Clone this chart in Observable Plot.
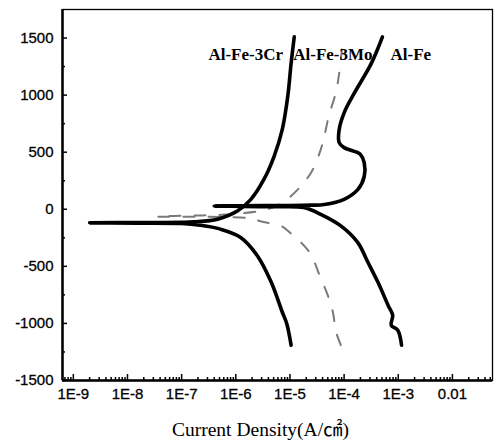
<!DOCTYPE html>
<html>
<head>
<meta charset="utf-8">
<script src="https://cdn.jsdelivr.net/npm/d3@7"></script>
<script src="https://cdn.jsdelivr.net/npm/@observablehq/plot@0.6"></script>
<style>
  html, body { margin: 0; padding: 0; background: #fff; }
  #chart svg { display: block; }
</style>
</head>
<body>
<div id="chart"></div>
<script>
// ---- data (current density A/cm², potential mV) ----
const decadeTicks  = [1e-9, 1e-8, 1e-7, 1e-6, 1e-5, 1e-4, 1e-3, 1e-2];
const decadeLabels = ["1E-9", "1E-8", "1E-7", "1E-6", "1E-5", "1E-4", "1E-3", "0.01"];
const potentialTicks = [-1500, -1000, -500, 0, 500, 1000, 1500];
const potentialMinorTicks = [-1250, -750, -250, 250, 750, 1250];

const crCurrent   = [1.05e-5, 8.7e-6, 7.2e-6, 4.5e-6, 2.5e-6, 1.23e-6, 5.2e-7, 2.2e-7, 1.0e-7, 1.6e-8, 2.0e-9, 1.6e-8, 1.0e-7, 1.7e-7, 4.6e-7, 1.07e-6, 1.9e-6, 3.3e-6, 5.1e-6, 7.2e-6, 9.1e-6, 1.05e-5, 1.2e-5];
const crPotential = [-1190, -1000, -900, -638, -407, -247, -174, -140, -125, -121, -119, -116, -114, -110, -87, -15, 87, 261, 464, 697, 987, 1278, 1510];

const moCurrent   = [8.7e-5, 7.1e-5, 6.2e-5, 5.0e-5, 3.5e-5, 2.3e-5, 1.12e-5, 6.8e-6, 3.1e-6, 1.9e-6, 6.3e-7, 3.5e-8, 1.26e-7, 3.5e-7, 1.0e-6, 3.2e-6, 5.6e-6, 1.05e-5, 2.45e-5, 3.7e-5, 4.3e-5, 5.2e-5, 7.1e-5, 8.1e-5, 9.1e-5];
const moPotential = [-1190, -1074, -900, -755, -575, -377, -226, -145, -110, -80, -68, -64, -56, -52, -40, -10, 30, 116, 320, 523, 638, 813, 1030, 1190, 1400];

const feCurrent   = [1.15e-3, 9.8e-4, 7.4e-4, 7.9e-4, 6.5e-4, 4.2e-4, 2.75e-4, 1.78e-4, 8.7e-5, 3.7e-5, 1.8e-5, 5.0e-6, 1.26e-6, 4.0e-7, 1.26e-6, 6.3e-6, 2.5e-5, 4.3e-5, 1.0e-4, 1.8e-4, 2.35e-4, 2.35e-4, 2.0e-4, 1.8e-4, 1.0e-4, 8.1e-5, 8.1e-5, 1.0e-4, 1.55e-4, 3.2e-4, 5.1e-4];
const fePotential = [-1190, -1060, -1016, -929, -842, -638, -464, -290, -145, -44, 15, 22, 25, 28, 31, 33, 36, 42, 87, 174, 287, 409, 480, 496, 540, 584, 697, 845, 1019, 1280, 1510];

const seriesNames = ["Al-Fe-3Cr", "Al-Fe-3Mo", "Al-Fe"];
const labelCurrent = [3.12e-7, 1.15e-5, 7.2e-4];
const labelPotential = [1357, 1357, 1357];

const xTitle = "Current Density(A/㎠)";

// ---- build tables ----
const toRows = (xs, ys) => xs.map((x, i) => ({i: x, E: ys[i]}));
const cr = toRows(crCurrent, crPotential);
const mo = toRows(moCurrent, moPotential);
const fe = toRows(feCurrent, fePotential);
const labels = seriesNames.map((t, k) => ({t, i: labelCurrent[k], E: labelPotential[k]}));

const xDomain = [Math.pow(10, -9.2), Math.pow(10, -1.26)];
const yDomain = [-1500, 1750];

const minorX = [];
for (let e = -10; e <= -2; e++) for (let m = 2; m <= 9; m++) {
  const v = m * Math.pow(10, e);
  if (v > xDomain[0] && v < xDomain[1]) minorX.push(v);
}

const sans = "'Liberation Sans', Arial, sans-serif";
const serif = "'Liberation Serif', 'Times New Roman', 'Noto Sans CJK SC', serif";

const chart = Plot.plot({
  width: 494,
  height: 446,
  marginLeft: 62,
  marginRight: 2,
  marginTop: 9,
  marginBottom: 66,
  style: {background: "#fff", color: "#000", fontFamily: sans},
  x: {type: "log", domain: xDomain},
  y: {domain: yDomain},
  marks: [
    Plot.frame({stroke: "#000", strokeWidth: 1.3}),
    Plot.ruleX([xDomain[0]], {stroke: "#000", strokeWidth: 2.5}),
    Plot.ruleY([yDomain[0]], {stroke: "#000", strokeWidth: 2.5}),
    // inward ticks
    Plot.axisX(decadeTicks, {anchor: "bottom", tickSize: -6, strokeWidth: 1.5, tickFormat: () => "", label: null}),
    Plot.axisX(minorX, {anchor: "bottom", tickSize: -3, strokeWidth: 1.5, tickFormat: () => "", label: null}),
    Plot.axisY(potentialTicks, {anchor: "left", tickSize: -5, strokeWidth: 1.5, tickFormat: () => "", label: null}),
    Plot.axisY(potentialMinorTicks, {anchor: "left", tickSize: -3, strokeWidth: 1.5, tickFormat: () => "", label: null}),
    // tick labels
    Plot.text(decadeTicks, {x: d => d, text: (d, k) => decadeLabels[k], frameAnchor: "bottom", dy: 18, fontSize: 15, fontFamily: sans, fill: "#000", stroke: "#000", strokeWidth: 0.3}),
    Plot.text(potentialTicks, {y: d => d, text: d => String(d), frameAnchor: "left", textAnchor: "end", dx: -9, fontSize: 15, fontFamily: sans, fill: "#000", stroke: "#000", strokeWidth: 0.3}),
    Plot.text([xTitle], {text: d => d, frameAnchor: "bottom", dx: -17, dy: 55, fontSize: 19.5, fontFamily: serif, fill: "#000"}),
    // curves
    Plot.line(mo, {x: "i", y: "E", stroke: "#7a7a7a", strokeWidth: 2, strokeDasharray: "11,14", curve: "catmull-rom"}),
    Plot.line(cr, {x: "i", y: "E", stroke: "#000", strokeWidth: 3.6, curve: "catmull-rom"}),
    Plot.line(fe, {x: "i", y: "E", stroke: "#000", strokeWidth: 3.6, curve: "catmull-rom"}),
    // series labels
    Plot.text(labels, {x: "i", y: "E", text: "t", textAnchor: "start", fontSize: 17, fontWeight: "bold", fontFamily: serif, fill: "#000"})
  ]
});
document.getElementById("chart").appendChild(chart);
</script>
</body>
</html>
